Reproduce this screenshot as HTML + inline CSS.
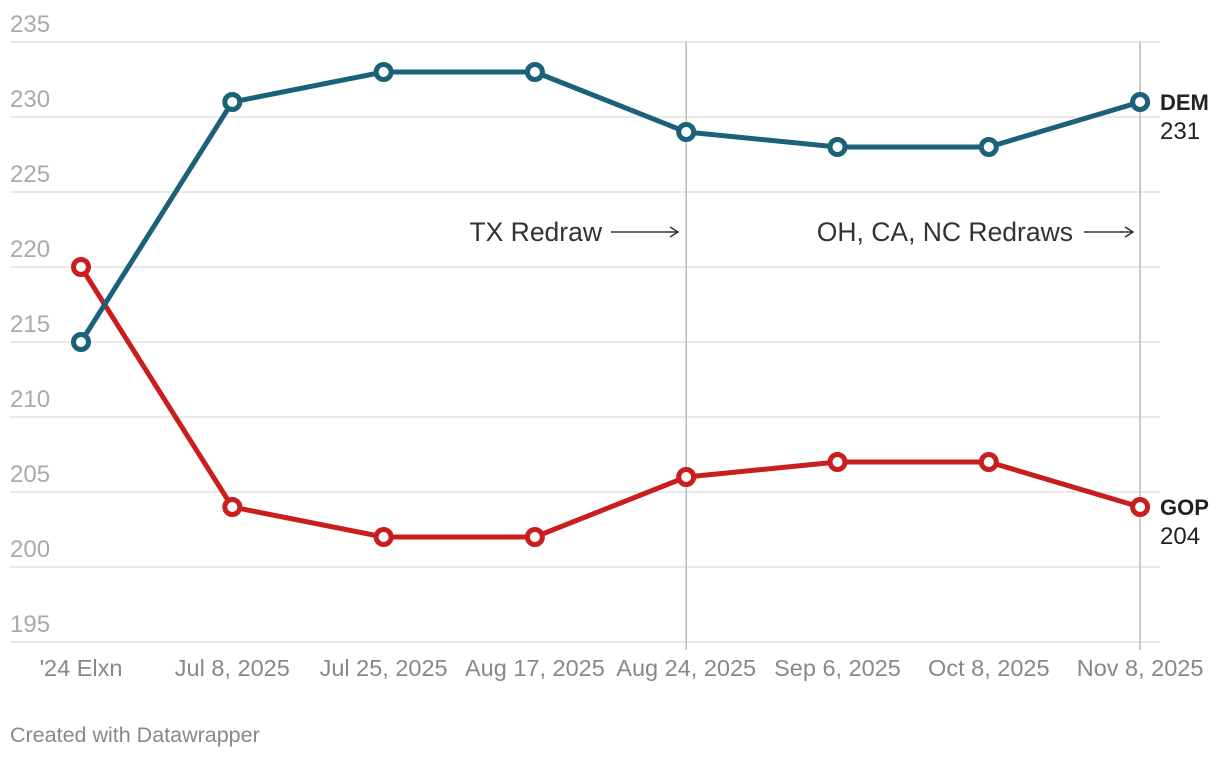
<!DOCTYPE html>
<html><head><meta charset="utf-8"><style>
body{margin:0;background:#fff;font-family:"Liberation Sans",sans-serif;}
svg text{font-family:"Liberation Sans",sans-serif;}
</style></head><body>
<svg id="chart" width="1220" height="758"></svg>
<script>
const categories=["'24 Elxn","Jul 8, 2025","Jul 25, 2025","Aug 17, 2025","Aug 24, 2025","Sep 6, 2025","Oct 8, 2025","Nov 8, 2025"];
const demValues=[215,231,233,233,229,228,228,231];
const gopValues=[220,204,202,202,206,207,207,204];
const yTicks=[195,200,205,210,215,220,225,230,235];
const NS="http://www.w3.org/2000/svg";
const svg=document.getElementById('chart');
const x=i=>81+i*151.3;
const y=v=>642-(v-195)*15;
function mk(t,a,p){const e=document.createElementNS(NS,t);for(const k in a)e.setAttribute(k,a[k]);(p||svg).appendChild(e);return e;}
yTicks.forEach(t=>{
 const l=mk('line',{x1:10,x2:1160,y1:y(t),y2:y(t),stroke:'#e2e2e2','stroke-width':1.5});
 
 
 const tx=mk('text',{x:10,y:y(t)-10,fill:'#aaa','font-size':24});tx.textContent=t;
 
 
});
[4,7].forEach(i=>{const l=mk('line',{x1:x(i),x2:x(i),y1:42,y2:650,stroke:'#bbb','stroke-width':1.5});
 
 });
categories.forEach((c,i)=>{const t=mk('text',{x:x(i),y:676,fill:'#888','font-size':23.5,'text-anchor':'middle'});t.textContent=c;
 
 });
function ann(txt,xe,ax1,ax2){const t=mk('text',{x:xe,y:241,fill:'#333','font-size':26.5,'text-anchor':'end'});t.textContent=txt;
 
 
 mk('line',{x1:ax1,x2:ax2,y1:232,y2:232,stroke:'#333','stroke-width':1.5});
 mk('path',{d:`M${ax2-8} 227 L${ax2} 232 L${ax2-8} 237`,fill:'none',stroke:'#333','stroke-width':1.5});}
ann('TX Redraw',602,611,678);
ann('OH, CA, NC Redraws',1073,1084,1133);
function series(vals,col,name){
 const p=mk('polyline',{points:vals.map((v,i)=>x(i)+','+y(v)).join(' '),fill:'none',stroke:col,'stroke-width':5,'stroke-linejoin':'round'});
 
 
 vals.forEach((v,i)=>{const c=mk('circle',{cx:x(i),cy:y(v),r:7.5,fill:'#fff',stroke:col,'stroke-width':5});
  
  });
 const last=vals[vals.length-1];
 const a=mk('text',{x:1160,y:y(last)+8,fill:'#222','font-size':22,'font-weight':'bold'});a.textContent=name.toUpperCase();
 
 
 const b=mk('text',{x:1160,y:y(last)+37,fill:'#222','font-size':24});b.textContent=last;
 
 
}
series(gopValues,'#c91d1e','gop');
series(demValues,'#1a6179','dem');
const f=mk('text',{x:10,y:742,fill:'#888','font-size':21.5});f.textContent='Created with Datawrapper';


</script>
</body></html>
